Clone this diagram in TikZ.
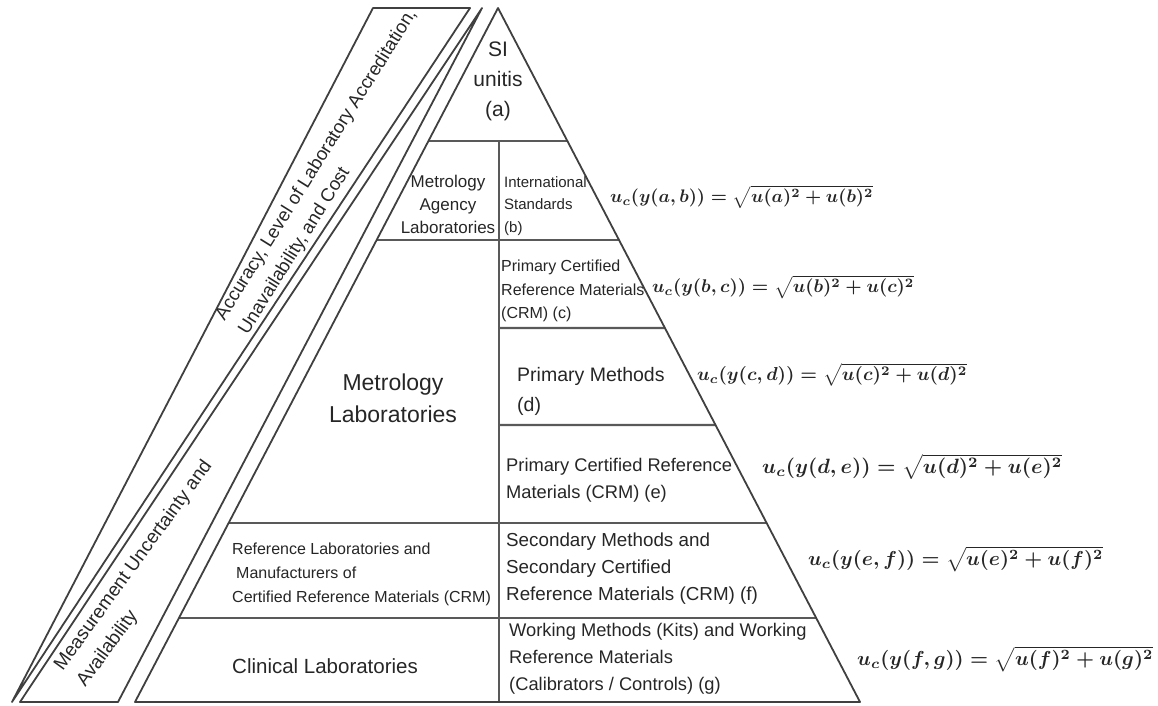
\documentclass[tikz,border=0pt]{standalone}
\usepackage{fontspec}
\setmainfont{Liberation Sans}
\usepackage{graphicx}
\usetikzlibrary{calc}
\newcommand{\uceq}[3]{\resizebox{#1}{!}{\boldmath$u_c(y(#2,#3)) = \sqrt{u(#2)^2+u(#3)^2}$}}
\newcommand{\fs}[2]{\fontsize{#1}{#2}\selectfont}
\begin{document}
\begin{tikzpicture}[x=1pt,y=-1pt,
  frame/.style={draw=black!75, line width=1.8pt, line join=round},
  sepline/.style={draw=black!65, line width=2.4pt},
  lbl/.style={inner sep=0pt, text=black!85},
  eqn/.style={inner sep=0pt, anchor=west, text=black!85}]
\useasboundingbox (0,0) rectangle (1158,706);
% pyramid corners
\coordinate (apex) at (498,8);
\coordinate (bl) at (135,702);
\coordinate (br) at (860,702);
% level points on the pyramid edges
\foreach \n/\t in {1/0.19164,2/0.33429,3/0.46110,4/0.60086,5/0.74207,6/0.87896}{
  \coordinate (L\n) at ($(apex)!\t!(bl)$);
  \coordinate (R\n) at ($(apex)!\t!(br)$);
}
\coordinate (D1) at (499,141);
\coordinate (D3) at (499,328);
\coordinate (D4) at (499,425);
\coordinate (D7) at (499,702);
% separators
\draw[sepline] (L1) -- (R1);
\draw[sepline] (L2) -- (R2);
\draw[sepline] (D3) -- (R3);
\draw[sepline] (D4) -- (R4);
\draw[sepline] (L5) -- (R5);
\draw[sepline] (L6) -- (R6);
\draw[sepline] (D1) -- (D7);
\draw[frame] (apex) -- (bl) -- (br) -- cycle;
% left wedges
\coordinate (a1) at (373,8);
\coordinate (a2) at (470,8);
\coordinate (a3) at (12,702);
\coordinate (b1) at (482,8);
\coordinate (b2) at (118,702);
\coordinate (b3) at (20,702);
\draw[frame] (a1) -- (a2) -- (a3) -- cycle;
\draw[frame] (b1) -- (b2) -- (b3) -- cycle;
% wedge texts
\node[lbl, font=\fs{18.6}{27}, align=left, rotate=58, anchor=west] (acc) at (232,326)
  {Accuracy, Level of Laboratory Accreditation,\\Unavailability, and Cost};
\node[lbl, font=\fs{19}{28}, align=left, rotate=54, anchor=west] (mua) at (70,677)
  {Measurement Uncertainty and\\Availability};
% pyramid texts
\node[lbl, font=\fs{21}{30}, align=center] (si) at (498,81) {SI\\unitis\\(a)};
\node[lbl, font=\fs{17}{23}, align=center] (mal) at (448,204) {Metrology\\Agency\\Laboratories};
\node[lbl, font=\fs{15}{22.5}, align=left, anchor=west] (ist) at (504,206) {International\\Standards\\(b)};
\node[lbl, font=\fs{16}{23.5}, align=left, anchor=west] (pcc) at (501,291) {Primary Certified\\Reference Materials\\(CRM) (c)};
\node[lbl, font=\fs{19.5}{30}, align=left, anchor=west] (pmd) at (517,391) {Primary Methods\\(d)};
\node[lbl, font=\fs{18.3}{27}, align=left, anchor=west] (pce) at (506,480) {Primary Certified Reference\\Materials (CRM) (e)};
\node[lbl, font=\fs{18.8}{27}, align=left, anchor=west] (smf) at (506,569) {Secondary Methods and\\Secondary Certified\\Reference Materials (CRM) (f)};
\node[lbl, font=\fs{18.3}{27}, align=left, anchor=west] (wmg) at (509,659) {Working Methods (Kits) and Working\\Reference Materials\\(Calibrators / Controls) (g)};
\node[lbl, font=\fs{23}{32}, align=center] (ml) at (393,398) {Metrology\\Laboratories};
\node[lbl, font=\fs{16}{24}, align=left, anchor=west] (rlm) at (232,574) {Reference Laboratories and\\\hspace*{4pt}Manufacturers of\\Certified Reference Materials (CRM)};
\node[lbl, font=\fs{20.5}{26}, anchor=west] (cl) at (232,666) {Clinical Laboratories};
% equations
\node[eqn] (eab) at (610,197) {\uceq{263pt}{a}{b}};
\node[eqn] (ebc) at (652,287) {\uceq{262pt}{b}{c}};
\node[eqn] (ecd) at (697,375) {\uceq{270pt}{c}{d}};
\node[eqn] (ede) at (762,467) {\uceq{300pt}{d}{e}};
\node[eqn] (eef) at (808,559) {\uceq{295pt}{e}{f}};
\node[eqn] (efg) at (857,659) {\uceq{296pt}{f}{g}};
\end{tikzpicture}
\end{document}
